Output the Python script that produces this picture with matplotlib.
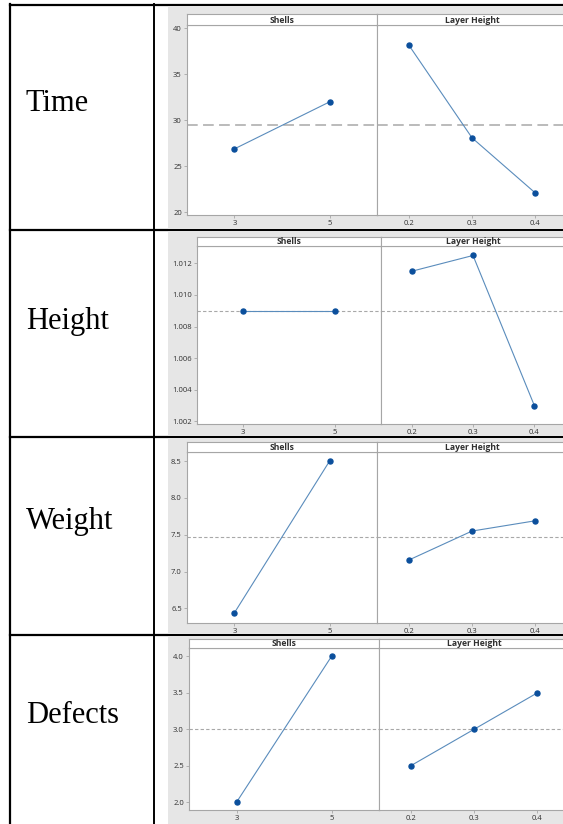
import matplotlib
matplotlib.use("Agg")
import matplotlib.pyplot as plt
from matplotlib.patches import Rectangle
from matplotlib.lines import Line2D

# ---------------- data ----------------
row_labels = ["Time", "Height", "Weight", "Defects"]
shells = [3, 5]
layer_height = [0.2, 0.3, 0.4]

time_shells = [26.9, 32.0]
time_layer = [38.2, 28.1, 22.1]
time_mean = 29.45
time_ticks = [20, 25, 30, 35, 40]
time_ticklabels = ["20", "25", "30", "35", "40"]

height_shells = [1.009, 1.009]
height_layer = [1.0115, 1.0125, 1.003]
height_mean = 1.009
height_ticks = [1.002, 1.004, 1.006, 1.008, 1.010, 1.012]
height_ticklabels = ["1.002", "1.004", "1.006", "1.008", "1.010", "1.012"]

weight_shells = [6.44, 8.50]
weight_layer = [7.155, 7.55, 7.69]
weight_mean = 7.465
weight_ticks = [6.5, 7.0, 7.5, 8.0, 8.5]
weight_ticklabels = ["6.5", "7.0", "7.5", "8.0", "8.5"]

defects_shells = [2.0, 4.0]
defects_layer = [2.5, 3.0, 3.5]
defects_mean = 3.0
defects_ticks = [2.0, 2.5, 3.0, 3.5, 4.0]
defects_ticklabels = ["2.0", "2.5", "3.0", "3.5", "4.0"]

panel_titles = ["Shells", "Layer Height"]
shell_ticklabels = ["3", "5"]
layer_ticklabels = ["0.2", "0.3", "0.4"]

# ---------------- layout (pixels) ----------------
W, H = 563, 824
fig = plt.figure(figsize=(W / 100, H / 100), dpi=100)
fig.patch.set_facecolor("white")


def px_axes(x0, x1, ytop, ybot, **kw):
    return fig.add_axes([x0 / W, 1 - ybot / H, (x1 - x0) / W, (ybot - ytop) / H], **kw)


def px_line(xs, ys, **kw):
    fig.add_artist(Line2D([x / W for x in xs], [1 - y / H for y in ys],
                          transform=fig.transFigure, **kw))


def px_rect(x0, ytop, x1, ybot, **kw):
    fig.add_artist(Rectangle((x0 / W, 1 - ybot / H), (x1 - x0) / W, (ybot - ytop) / H,
                             transform=fig.transFigure, **kw))


BG = "#e6e6e6"
FRAME = "#a6a6a6"
MARK = "#0b4f9c"
LINE = "#5a8cbc"
MEAN = "#a8a8a8"
TXT = "#303030"
TICKFONT = ["Open Sans", "DejaVu Sans"]

rows = [
    dict(bg=(6, 229), xs=(187, 377, 567), st=14, sb=25, pb=215,
         ys=time_shells, yl=time_layer, mean=time_mean, ticks=time_ticks,
         tl=time_ticklabels, ylim=(19.71, 40.36), dash=(7, 3.5), mlw=1.1),
    dict(bg=(231, 436), xs=(197, 381, 565), st=237, sb=246, pb=424,
         ys=height_shells, yl=height_layer, mean=height_mean, ticks=height_ticks,
         tl=height_ticklabels, ylim=(1.00183, 1.01310), dash=(3, 2), mlw=0.8),
    dict(bg=(438, 634), xs=(187, 377, 567), st=442, sb=452, pb=623,
         ys=weight_shells, yl=weight_layer, mean=weight_mean, ticks=weight_ticks,
         tl=weight_ticklabels, ylim=(6.30, 8.625), dash=(3, 2), mlw=0.8),
    dict(bg=(636, 830), xs=(189, 379, 569), st=639, sb=648, pb=810,
         ys=defects_shells, yl=defects_layer, mean=defects_mean, ticks=defects_ticks,
         tl=defects_ticklabels, ylim=(1.894, 4.115), dash=(3, 2), mlw=0.8),
]

# table borders
row_bounds = [5, 230, 437, 635]
for yb in row_bounds:
    px_line([10, 563], [yb, yb], color="black", lw=1.6, zorder=0)
px_line([10, 10], [4, 824], color="black", lw=1.6, zorder=0)
px_line([154, 154], [4, 824], color="black", lw=1.4, zorder=0)

label_baselines = [111, 329, 529, 723]
for lab, yb in zip(row_labels, label_baselines):
    fig.text(26 / W, 1 - yb / H, lab, family=["Liberation Serif", "DejaVu Serif"],
             fontsize=22, color="black", ha="left", va="baseline")

for r in rows:
    px_rect(168, r["bg"][0], 563, r["bg"][1], facecolor=BG, edgecolor="none", zorder=1)
    x0, xm, x1 = r["xs"]
    for k in range(2):
        xa, xb = (x0, xm) if k == 0 else (xm, x1)
        ax = px_axes(xa, xb, r["sb"], r["pb"])
        ax.set_zorder(3)
        ax.set_facecolor("white")
        for s in ax.spines.values():
            s.set_color(FRAME)
            s.set_linewidth(0.8)
        ax.set_ylim(*r["ylim"])
        if k == 0:
            ax.set_xlim(2, 6)
            ax.plot(shells, r["ys"], color=LINE, lw=0.8, zorder=3)
            ax.plot(shells, r["ys"], "o", color=MARK, ms=3.6, zorder=4)
            ax.set_xticks(shells)
            ax.set_xticklabels(shell_ticklabels)
            ax.set_yticks(r["ticks"])
            ax.set_yticklabels(r["tl"])
        else:
            ax.set_xlim(0.15, 0.45)
            ax.plot(layer_height, r["yl"], color=LINE, lw=0.8, zorder=3)
            ax.plot(layer_height, r["yl"], "o", color=MARK, ms=3.6, zorder=4)
            ax.set_xticks(layer_height)
            ax.set_xticklabels(layer_ticklabels)
            ax.set_yticks([])
        ax.axhline(r["mean"], color=MEAN, lw=r["mlw"], dashes=r["dash"], zorder=2)
        ax.tick_params(axis="both", length=2.5, width=0.6, color=FRAME, pad=1.2,
                       labelsize=5.5, labelcolor=TXT)
        for t in ax.get_xticklabels() + ax.get_yticklabels():
            t.set_family(TICKFONT)
        sax = px_axes(xa, xb, r["st"], r["sb"])
        sax.set_zorder(3)
        sax.set_facecolor("white")
        sax.set_xticks([])
        sax.set_yticks([])
        for s in sax.spines.values():
            s.set_color(FRAME)
            s.set_linewidth(0.8)
        sax.text(0.5, 0.45, panel_titles[k], transform=sax.transAxes, ha="center",
                 va="center", fontsize=6.2, fontweight="bold", color=TXT, family=TICKFONT)

fig.savefig("out.png", dpi=100, facecolor="white")
